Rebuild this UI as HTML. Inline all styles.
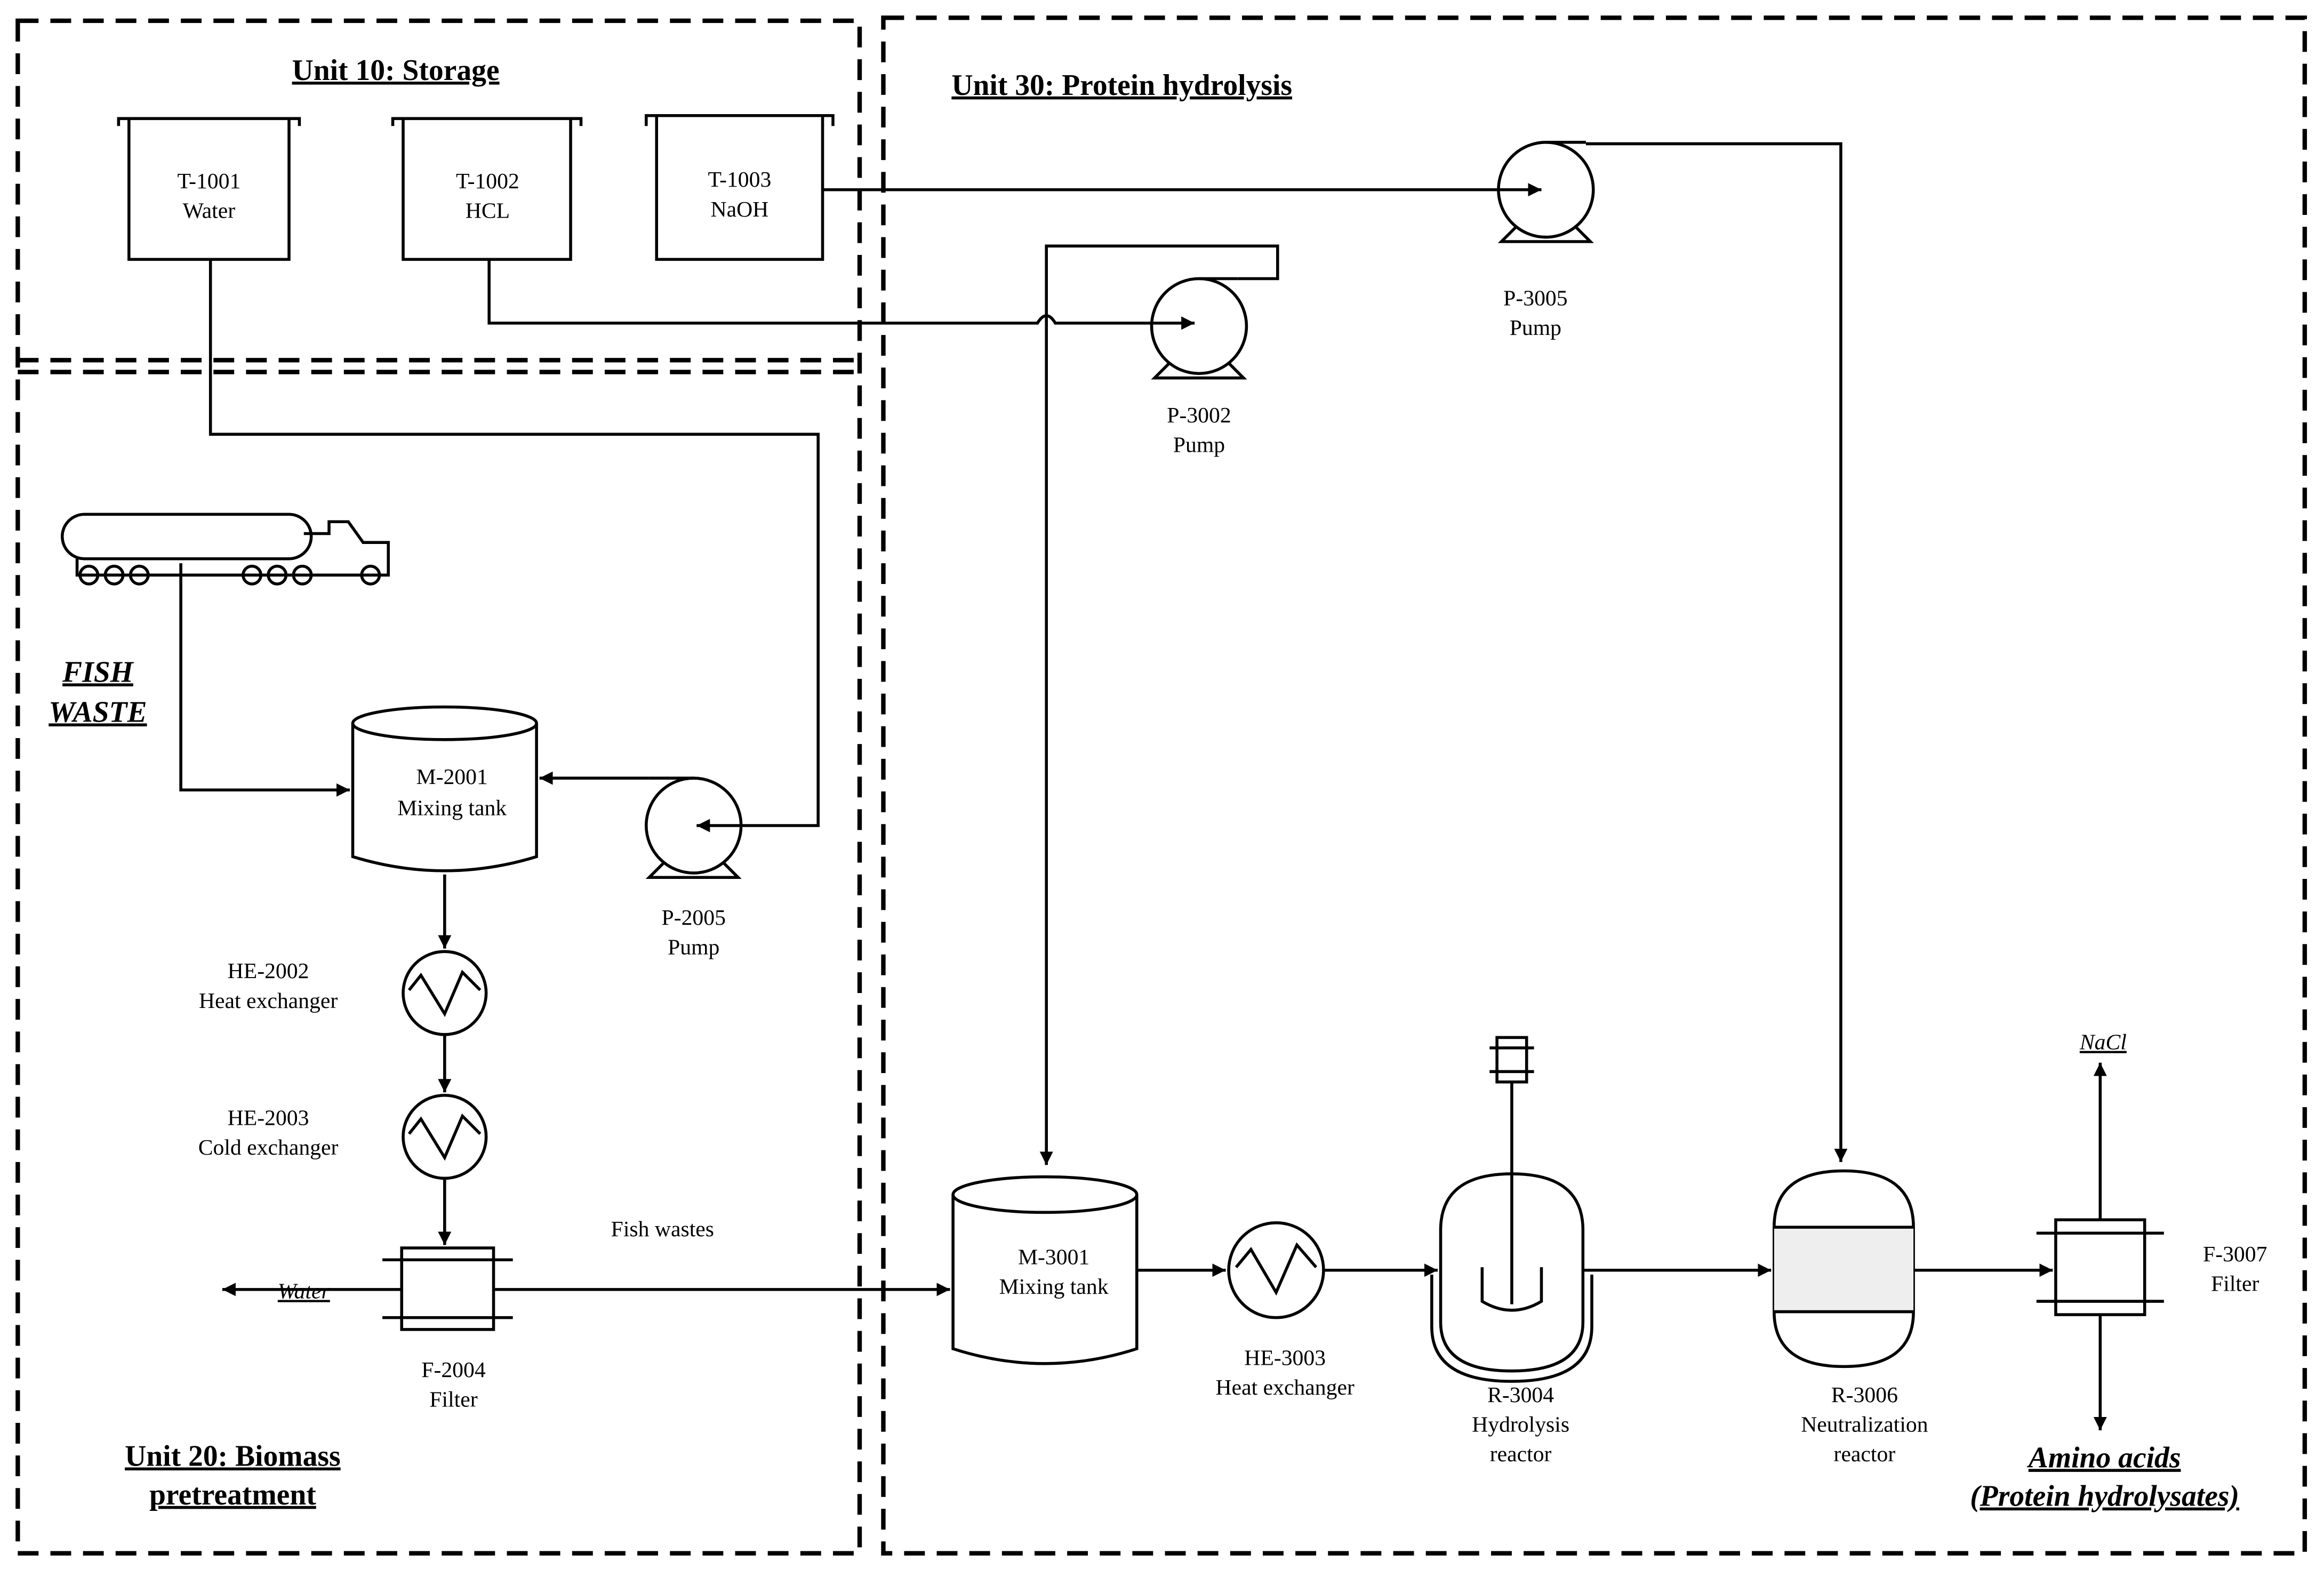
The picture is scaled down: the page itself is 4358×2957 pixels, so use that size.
<!DOCTYPE html>
<html><head><meta charset="utf-8"><style>
html,body{margin:0;padding:0;background:#fff;}
svg{display:block;}
text{font-family:"Liberation Serif",serif;fill:#000;}
</style></head><body>
<svg width="4358" height="2957" viewBox="0 0 1568 1064" preserveAspectRatio="none" xmlns="http://www.w3.org/2000/svg">
<defs>
<marker id="a" viewBox="0 0 10 10" refX="10" refY="5" markerWidth="9" markerHeight="9" markerUnits="userSpaceOnUse" orient="auto"><path d="M0,0 L10,5 L0,10 z" fill="#000"/></marker>
</defs>
<g fill="none" stroke="#000" stroke-width="3" stroke-dasharray="14,8">
<rect x="12" y="14" width="568" height="1034"/>
<line x1="12" y1="243" x2="580" y2="243"/>
<line x1="12" y1="251" x2="580" y2="251"/>
<rect x="596" y="12" width="959" height="1036"/>
</g>
<g font-weight="bold" font-size="20" text-decoration="underline">
<text x="267" y="54" text-anchor="middle">Unit 10: Storage</text>
<text x="642" y="64">Unit 30: Protein hydrolysis</text>
<text x="157" y="989" text-anchor="middle">Unit 20: Biomass</text>
<text x="157" y="1015" text-anchor="middle">pretreatment</text>
<text x="66" y="460" text-anchor="middle" font-style="italic">FISH</text>
<text x="66" y="487" text-anchor="middle" font-style="italic">WASTE</text>
<text x="1420" y="990" text-anchor="middle" font-style="italic">Amino acids</text>
<text x="1420" y="1016" text-anchor="middle" font-style="italic">(Protein hydrolysates)</text>
</g>
<g fill="none" stroke="#000" stroke-width="2">
<!-- tanks -->
<path d="M80,85 V80 H202 V85 M87,80 V175 H195 V80"/>
<path d="M265,85 V80 H392 V85 M272,80 V175 H385 V80"/>
<path d="M436,85 V78 H562 V85 M443,78 V175 H555 V78"/>
<!-- truck -->
<rect x="42" y="347" width="168" height="30" rx="15"/>
<path d="M205,360 H222 V352 H235 L245,366 H262 V388 H52 V377"/>
<circle cx="60" cy="388" r="6"/><circle cx="77" cy="388" r="6"/><circle cx="94" cy="388" r="6"/>
<circle cx="170" cy="388" r="6"/><circle cx="187" cy="388" r="6"/><circle cx="204" cy="388" r="6"/><circle cx="250" cy="388" r="6"/>
<!-- M-2001 -->
<ellipse cx="300" cy="488" rx="62" ry="11"/>
<path d="M238,488 V578 Q300,597 362,578 V488"/>
<!-- P-2005 -->
<circle cx="468" cy="557" r="32"/><path d="M448,582 L438,592 H498 L488,582 M468,525 H438"/>
<!-- HE -->
<circle cx="300" cy="670" r="28"/><path d="M276,668 L284,658 L300,684 L312,656 L324,668"/>
<circle cx="300" cy="767" r="28"/><path d="M276,765 L284,755 L300,781 L312,753 L324,765"/>
<!-- F-2004 -->
<rect x="271" y="842" width="62" height="55"/><path d="M258,850 H346 M258,889 H346"/>
<!-- M-3001 -->
<ellipse cx="705" cy="806" rx="62" ry="12"/>
<path d="M643,806 V910 Q705,930 767,910 V806"/>
<!-- HE-3003 -->
<circle cx="861" cy="857" r="32"/><path d="M834,855 L844,843 L861,872 L875,840 L888,855"/>
<!-- R-3004 -->
<path d="M972,830 Q972,792 1020,792 Q1068,792 1068,830 V892 Q1068,925 1020,925 Q972,925 972,892 Z"/>
<path d="M966,860 V895 Q966,932 1020,932 Q1074,932 1074,895 V860"/>
<path d="M1020,730 V880 M1000,855 V878 Q1020,890 1040,878 V855"/>
<rect x="1010" y="700" width="20" height="30"/><path d="M1005,707 H1035 M1005,723 H1035"/>
<!-- R-3006 -->
<path d="M1197,828 Q1197,790 1244,790 Q1291,790 1291,828 V885 Q1291,922 1244,922 Q1197,922 1197,885 Z" fill="#fff"/>
<rect x="1197" y="828" width="94" height="57" fill="#eee" stroke="none"/>
<path d="M1197,828 H1291 M1197,885 H1291"/>
<!-- F-3007 -->
<rect x="1387" y="823" width="60" height="64"/><path d="M1374,832 H1460 M1374,878 H1460"/>
<!-- pumps -->
<circle cx="809" cy="220" r="32"/><path d="M789,245 L779,255 H839 L829,245 M809,188 H835"/>
<circle cx="1043" cy="128" r="32"/><path d="M1023,153 L1013,163 H1073 L1063,153 M1043,96 H1070"/>
</g>
<g fill="none" stroke="#000" stroke-width="2">
<path d="M142,175 V293 H552 V557 H470" marker-end="url(#a)"/>
<path d="M438,525 H364" marker-end="url(#a)"/>
<path d="M122,380 V533 H236" marker-end="url(#a)"/>
<path d="M300,590 V640" marker-end="url(#a)"/>
<path d="M300,698 V737" marker-end="url(#a)"/>
<path d="M300,795 V840" marker-end="url(#a)"/>
<path d="M271,870 H150" marker-end="url(#a)"/>
<path d="M333,870 H641" marker-end="url(#a)"/>
<path d="M767,857 H827" marker-end="url(#a)"/>
<path d="M893,857 H970" marker-end="url(#a)"/>
<path d="M1068,857 H1195" marker-end="url(#a)"/>
<path d="M1291,857 H1385" marker-end="url(#a)"/>
<path d="M1417,823 V717" marker-end="url(#a)"/>
<path d="M1417,887 V965" marker-end="url(#a)"/>
<path d="M555,128 H1040" marker-end="url(#a)"/>
<path d="M1070,97 H1242 V784" marker-end="url(#a)"/>
<path d="M330,175 V218 H700 Q706,208 712,218 H806" marker-end="url(#a)"/>
<path d="M835,188 H862 V166 H706 V786" marker-end="url(#a)"/>
</g>
<g font-size="15" text-anchor="middle">
<text x="141" y="127">T-1001</text><text x="141" y="147">Water</text>
<text x="329" y="127">T-1002</text><text x="329" y="147">HCL</text>
<text x="499" y="126">T-1003</text><text x="499" y="146">NaOH</text>
<text x="305" y="529">M-2001</text><text x="305" y="550">Mixing tank</text>
<text x="468" y="624">P-2005</text><text x="468" y="644">Pump</text>
<text x="181" y="660">HE-2002</text><text x="181" y="680">Heat exchanger</text>
<text x="181" y="759">HE-2003</text><text x="181" y="779">Cold exchanger</text>
<text x="306" y="929">F-2004</text><text x="306" y="949">Filter</text>
<text x="447" y="834">Fish wastes</text>
<text x="205" y="876" font-style="italic" text-decoration="underline">Water</text>
<text x="711" y="853">M-3001</text><text x="711" y="873">Mixing tank</text>
<text x="867" y="921">HE-3003</text><text x="867" y="941">Heat exchanger</text>
<text x="1026" y="946">R-3004</text><text x="1026" y="966">Hydrolysis</text><text x="1026" y="986">reactor</text>
<text x="1258" y="946">R-3006</text><text x="1258" y="966">Neutralization</text><text x="1258" y="986">reactor</text>
<text x="1508" y="851">F-3007</text><text x="1508" y="871">Filter</text>
<text x="1419" y="708" font-style="italic" text-decoration="underline">NaCl</text>
<text x="809" y="285">P-3002</text><text x="809" y="305">Pump</text>
<text x="1036" y="206">P-3005</text><text x="1036" y="226">Pump</text>
</g>
</svg>
</body></html>
